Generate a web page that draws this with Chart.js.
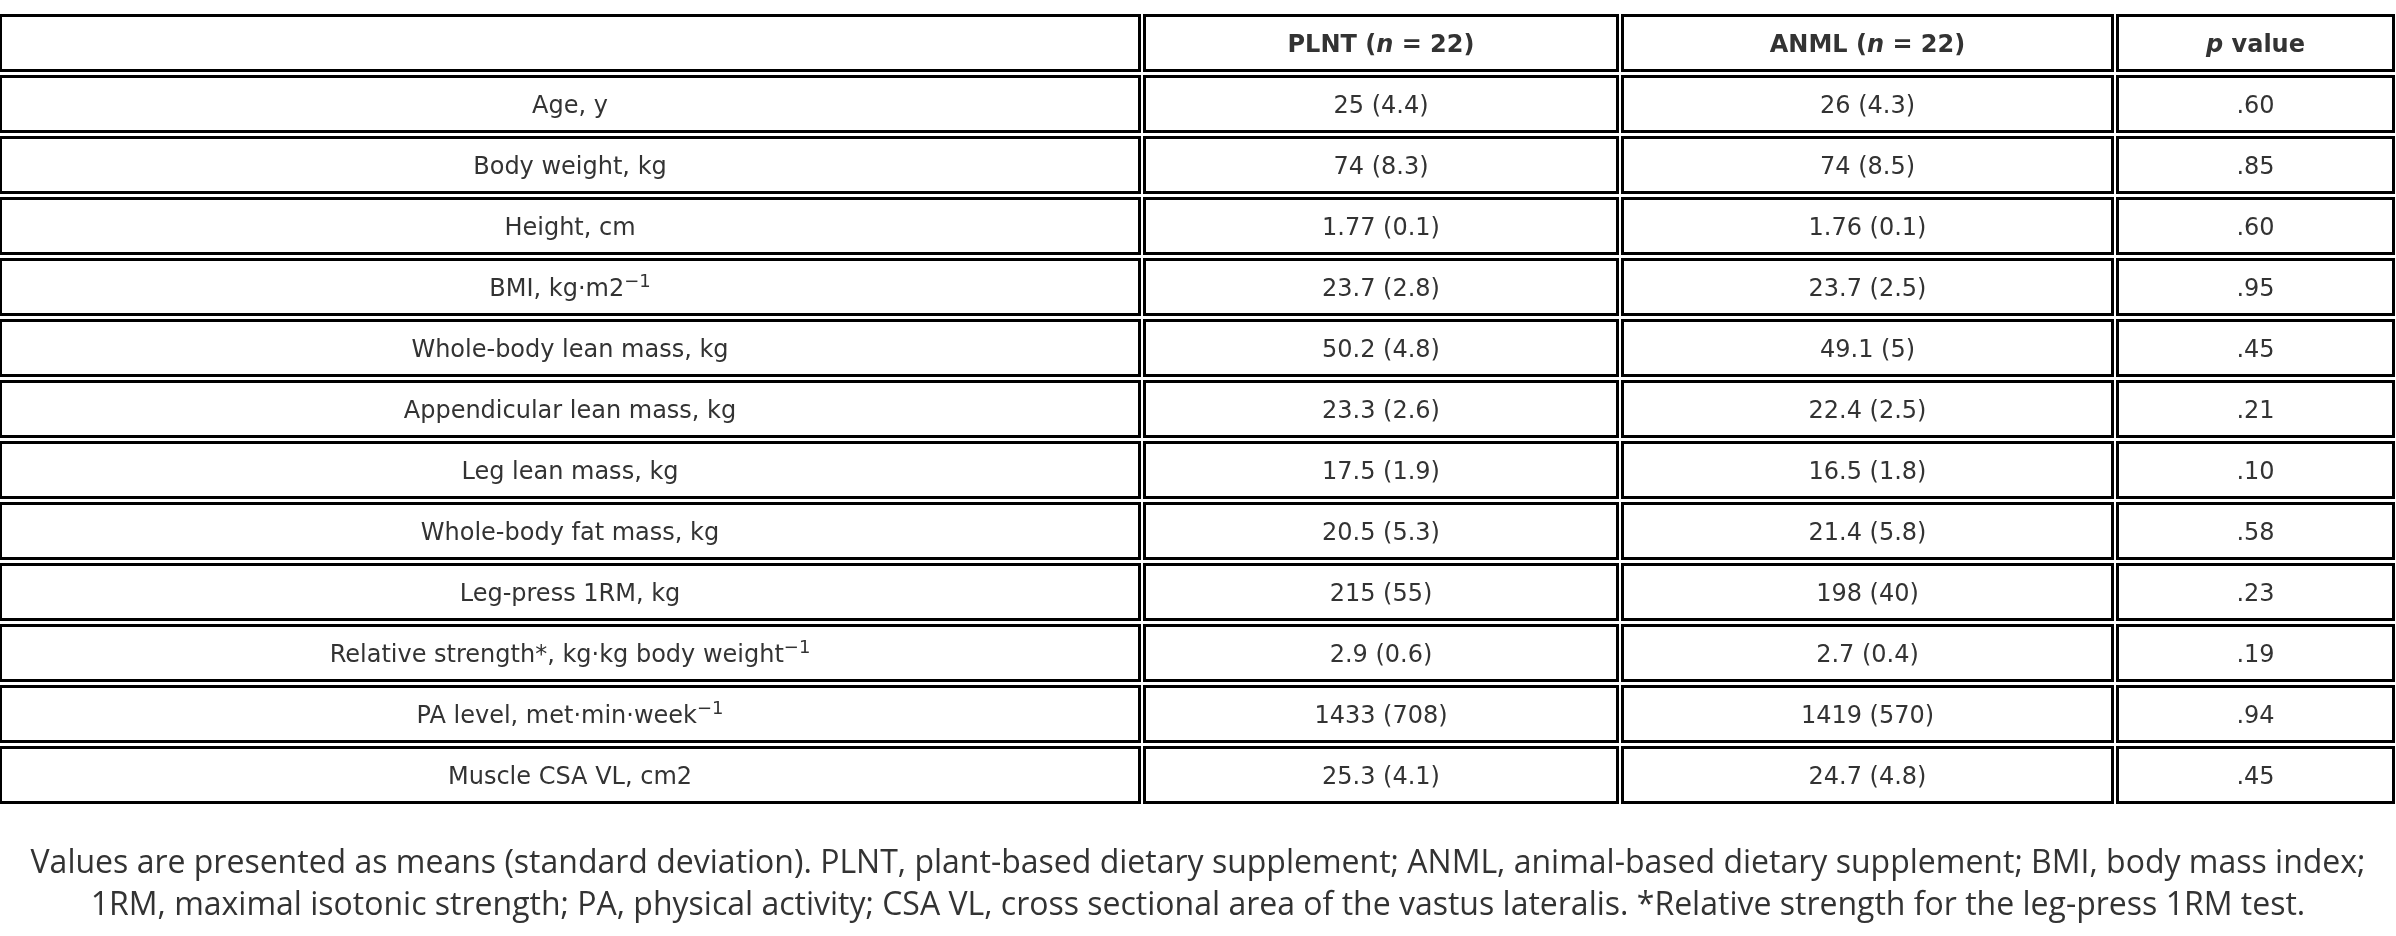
<!DOCTYPE html>
<html>
<head>
<meta charset="utf-8">
<title>Participant characteristics</title>
<script src="https://cdn.jsdelivr.net/npm/chart.js@4.4.1/dist/chart.umd.min.js"></script>
<style>
  html, body { margin: 0; padding: 0; background: #fff; }
  canvas { display: block; }
</style>
</head>
<body>
<canvas id="table" width="2396" height="936"></canvas>
<script>
// table content ("_x_" = italic, "^x" = superscript to end of string)
const columnHeaders = ['', 'PLNT (_n_ = 22)', 'ANML (_n_ = 22)', '_p_ value'];
const rowLabels = [
  'Age, y',
  'Body weight, kg',
  'Height, cm',
  'BMI, kg·m2^−1',
  'Whole-body lean mass, kg',
  'Appendicular lean mass, kg',
  'Leg lean mass, kg',
  'Whole-body fat mass, kg',
  'Leg-press 1RM, kg',
  'Relative strength*, kg·kg body weight^−1',
  'PA level, met·min·week^−1',
  'Muscle CSA VL, cm2'
];
const plntValues = ['25 (4.4)', '74 (8.3)', '1.77 (0.1)', '23.7 (2.8)', '50.2 (4.8)', '23.3 (2.6)',
  '17.5 (1.9)', '20.5 (5.3)', '215 (55)', '2.9 (0.6)', '1433 (708)', '25.3 (4.1)'];
const anmlValues = ['26 (4.3)', '74 (8.5)', '1.76 (0.1)', '23.7 (2.5)', '49.1 (5)', '22.4 (2.5)',
  '16.5 (1.8)', '21.4 (5.8)', '198 (40)', '2.7 (0.4)', '1419 (570)', '24.7 (4.8)'];
const pValues = ['.60', '.85', '.60', '.95', '.45', '.21', '.10', '.58', '.23', '.19', '.94', '.45'];
const captionLines = [
  'Values are presented as means (standard deviation). PLNT, plant-based dietary supplement; ANML, animal-based dietary supplement; BMI, body mass index;',
  '1RM, maximal isotonic strength; PA, physical activity; CSA VL, cross sectional area of the vastus lateralis. *Relative strength for the leg-press 1RM test.'
];

// layout (x in scale units = px)
const colEdges = [[-1, 1141], [1143, 1619], [1621, 2114], [2116, 2395]];
const cellGap = 3;
const borderW = 3;
const fontSize = 24;
const textColor = '#333';
const cellFont = "'DejaVu Sans', Verdana, sans-serif";

function parseRich(str) {
  const segs = [];
  let italic = false, sup = false, buf = '';
  const push = () => { if (buf) segs.push({ text: buf, italic, sup }); buf = ''; };
  for (const ch of str) {
    if (ch === '_') { push(); italic = !italic; }
    else if (ch === '^') { push(); sup = true; }
    else buf += ch;
  }
  push();
  return segs;
}

function drawRich(ctx, str, cx, baseline, bold) {
  const segs = parseRich(str);
  const fontFor = s => (s.italic ? 'italic ' : '') + (bold ? 'bold ' : '') +
    (s.sup ? Math.round(fontSize * 0.75) : fontSize) + 'px ' + cellFont;
  let total = 0;
  segs.forEach(s => { ctx.font = fontFor(s); s.w = ctx.measureText(s.text).width; total += s.w; });
  let x = cx - total / 2;
  ctx.textAlign = 'left';
  ctx.textBaseline = 'alphabetic';
  segs.forEach(s => {
    ctx.font = fontFor(s);
    ctx.fillText(s.text, x, s.sup ? baseline - fontSize * 0.38 : baseline);
    x += s.w;
  });
}

const tablePlugin = {
  id: 'tablePlugin',
  beforeDraw(chart) {
    const ctx = chart.ctx;
    ctx.save();
    ctx.fillStyle = '#fff';
    ctx.fillRect(0, 0, chart.width, chart.height);
    ctx.restore();
  },
  afterDraw(chart) {
    const { ctx, scales: { x, y } } = chart;
    const rows = [columnHeaders].concat(rowLabels.map((lab, i) => [lab, plntValues[i], anmlValues[i], pValues[i]]));
    const pitch = y.getPixelForValue(1) - y.getPixelForValue(0);
    ctx.save();
    rows.forEach((cells, r) => {
      const top = y.getPixelForValue(r) - pitch / 2;
      const bottom = top + pitch - cellGap;
      cells.forEach((txt, c) => {
        const x0 = x.getPixelForValue(colEdges[c][0]);
        const x1 = x.getPixelForValue(colEdges[c][1]);
        ctx.strokeStyle = '#000';
        ctx.lineWidth = borderW;
        ctx.strokeRect(x0 + borderW / 2, top + borderW / 2, x1 - x0 - borderW, bottom - top - borderW);
        ctx.fillStyle = textColor;
        drawRich(ctx, txt, (x0 + x1) / 2, (top + bottom) / 2 + fontSize * 0.36, r === 0);
      });
    });
    // caption under the table
    ctx.fillStyle = textColor;
    ctx.font = "32px 'Open Sans', sans-serif";
    ctx.textAlign = 'center';
    ctx.textBaseline = 'alphabetic';
    const cx = (x.getPixelForValue(0) + x.getPixelForValue(2396)) / 2;
    captionLines.forEach((line, i) => ctx.fillText(line, cx, 873 + i * 42));
    ctx.restore();
  }
};

new Chart(document.getElementById('table'), {
  type: 'bar',
  data: {
    labels: ['header'].concat(rowLabels),
    datasets: []
  },
  options: {
    indexAxis: 'y',
    responsive: false,
    animation: false,
    devicePixelRatio: 1,
    layout: { padding: { top: 14, bottom: 129, left: 0, right: 0 } },
    scales: {
      x: { type: 'linear', min: 0, max: 2396, display: false },
      y: { type: 'category', offset: true, display: false }
    },
    plugins: { legend: { display: false }, tooltip: { enabled: false } }
  },
  plugins: [tablePlugin]
});
</script>
</body>
</html>
